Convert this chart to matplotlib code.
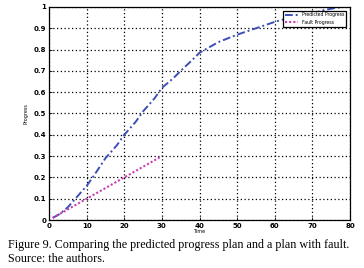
import matplotlib.pyplot as plt

# Predicted progress plan
time_pred = [1, 3, 5, 7, 10, 12, 15, 18, 20, 23, 25, 28, 30, 33, 35, 38, 40,
             45, 50, 55, 60, 65, 70, 73, 76, 78, 80]
prog_pred = [0.01, 0.03, 0.06, 0.10, 0.16, 0.21, 0.29, 0.35, 0.40, 0.46, 0.51,
             0.57, 0.62, 0.665, 0.70, 0.75, 0.785, 0.835, 0.87, 0.90, 0.93,
             0.955, 0.97, 0.985, 0.995, 1.0, 1.0]

# Plan with fault
time_fault = [1, 5, 10, 15, 20, 25, 30]
prog_fault = [0.01, 0.05, 0.10, 0.15, 0.20, 0.25, 0.30]

xticks = [0, 10, 20, 30, 40, 50, 60, 70, 80]
yticks = [0, 0.1, 0.2, 0.3, 0.4, 0.5, 0.6, 0.7, 0.8, 0.9, 1]

fig = plt.figure(figsize=(3.64, 2.68), dpi=100)
ax = fig.add_axes([0.1346, 0.179, 0.827, 0.795])

ax.plot(time_pred, prog_pred, color='#3d4fb5', linestyle=(0, (4, 1.5, 1, 1.5)),
        linewidth=1.4, label='Predicted Progress')
ax.plot(time_fault, prog_fault, color='#c83fb4', linestyle=(0, (1, 1)),
        linewidth=1.5, label='Fault Progress')

ax.set_xlim(0, 80)
ax.set_ylim(0, 1)
ax.set_xticks(xticks)
ax.set_yticks(yticks)
ax.set_yticklabels(['0', '0.1', '0.2', '0.3', '0.4', '0.5', '0.6', '0.7',
                    '0.8', '0.9', '1'])
ax.tick_params(labelsize=5, length=2, width=0.6, direction='in', pad=2)
for lbl in ax.get_xticklabels() + ax.get_yticklabels():
    lbl.set_fontweight('bold')
ax.grid(True, color='black', linestyle=(0, (1, 2)), linewidth=0.9)
for s in ax.spines.values():
    s.set_linewidth(0.9)

ax.set_xlabel('Time', fontsize=3.5, labelpad=0)
ax.set_ylabel('Progress', fontsize=3.5, labelpad=4)

leg = ax.legend(loc='upper right', fontsize=3.3, fancybox=False,
                framealpha=1, edgecolor='black', handlelength=3,
                borderpad=0.4, labelspacing=0.5, borderaxespad=0.8)
leg.get_frame().set_linewidth(0.9)

# Caption below the chart
fig.text(0.022, 0.073,
         'Figure 9. Comparing the predicted progress plan and a plan with fault.',
         fontsize=8.7, family='Liberation Serif')
fig.text(0.022, 0.024, 'Source: the authors.', fontsize=8.7,
         family='Liberation Serif')

fig.savefig('out.png', dpi=100)
